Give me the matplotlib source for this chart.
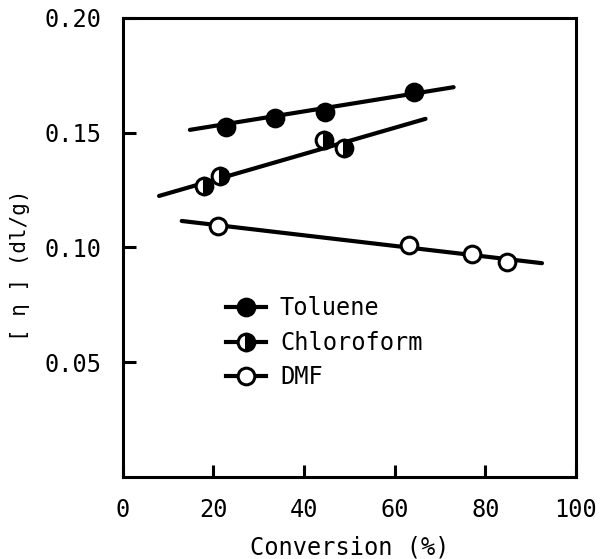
import matplotlib
matplotlib.use('Agg')
import matplotlib.pyplot as plt

# Data
tol_x = [22.7, 33.6, 44.7, 64.2]
tol_y = [0.1526, 0.1563, 0.1592, 0.1675]
chl_x = [18.0, 21.5, 44.4, 48.8]
chl_y = [0.1268, 0.1313, 0.1468, 0.1432]
dmf_x = [21.1, 63.1, 77.0, 84.8]
dmf_y = [0.1091, 0.1011, 0.0970, 0.0936]

# fitted straight lines: x extent and y at the ends
tol_fit_x = [14.8, 73.0]
tol_fit_y = [0.1512, 0.1698]
chl_fit_x = [8.0, 66.8]
chl_fit_y = [0.1224, 0.1560]
dmf_fit_x = [13.0, 92.5]
dmf_fit_y = [0.1115, 0.0931]

x_ticks = [0, 20, 40, 60, 80, 100]
y_ticks = [0.05, 0.10, 0.15, 0.20]
y_labels = ['0.05', '0.10', '0.15', '0.20']

plt.rcParams['font.family'] = ['DejaVu Sans Mono']

fig = plt.figure(figsize=(6.05, 5.59), dpi=100)
ax = fig.add_axes([0.203, 0.147, 0.749, 0.821])

lw = 3.0
ms = 12
mew = 2.2

ax.plot(tol_fit_x, tol_fit_y, color='black', lw=lw, solid_capstyle='round')
ax.plot(chl_fit_x, chl_fit_y, color='black', lw=lw, solid_capstyle='round')
ax.plot(dmf_fit_x, dmf_fit_y, color='black', lw=lw, solid_capstyle='round')

ax.plot(tol_x, tol_y, 'o', color='black', ms=ms, mew=mew, zorder=3)
ax.plot(chl_x, chl_y, 'o', color='black', ms=ms, mew=mew, fillstyle='right',
        markerfacecoloralt='white', zorder=3)
ax.plot(dmf_x, dmf_y, 'o', mfc='white', mec='black', ms=ms, mew=mew, zorder=3)

# legend handles (line with marker)
h1, = ax.plot([], [], '-o', color='black', lw=lw, ms=ms, mew=mew)
h2, = ax.plot([], [], '-o', color='black', lw=lw, ms=ms, mew=mew,
              fillstyle='right', markerfacecoloralt='white')
h3, = ax.plot([], [], '-o', color='black', mfc='white', mec='black',
              lw=lw, ms=ms, mew=mew)
ax.legend([h1, h2, h3], ['Toluene', 'Chloroform', 'DMF'],
          loc='upper left', bbox_to_anchor=(0.18, 0.44), frameon=False,
          fontsize=17, handlelength=1.7, handletextpad=0.6, labelspacing=0.45)

ax.set_xlim(0, 100)
ax.set_ylim(0, 0.20)
ax.set_xticks(x_ticks)
ax.set_xticklabels([str(v) for v in x_ticks])
ax.set_yticks(y_ticks)
ax.set_yticklabels(y_labels)
ax.tick_params(axis='both', direction='in', length=9, width=2.2,
               labelsize=17, pad=15)

for s in ax.spines.values():
    s.set_linewidth(2.2)

ax.set_xlabel('Conversion (%)', fontsize=17, labelpad=10)
ax.set_ylabel('[ η ] (dl/g)', fontsize=15)
ax.yaxis.set_label_coords(-0.205, 0.462)

plt.savefig('out.png', dpi=100)
